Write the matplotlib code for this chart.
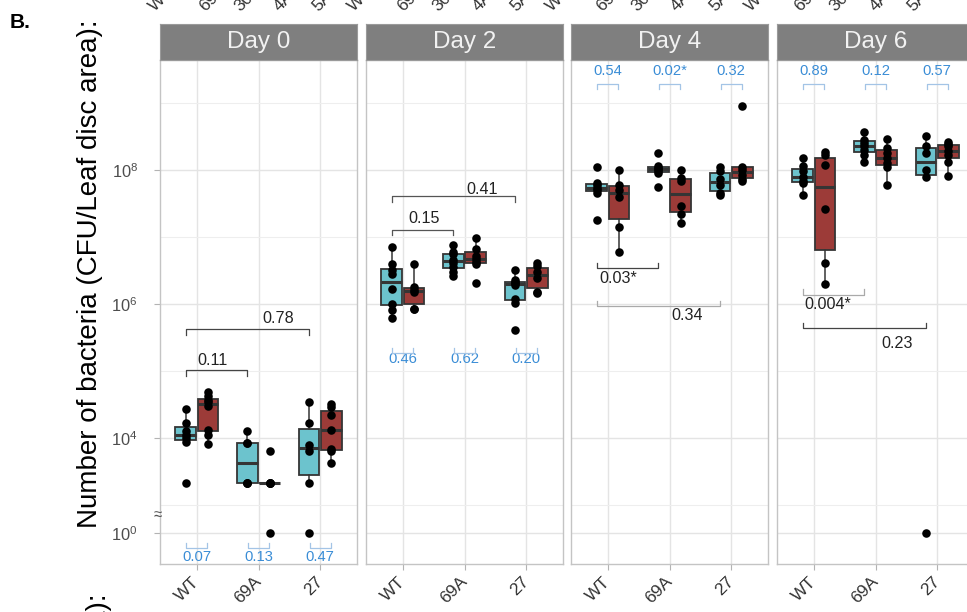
import numpy as np
import matplotlib.pyplot as plt
from matplotlib import transforms

plt.rcParams['font.family'] = ['Liberation Sans', 'DejaVu Sans']
plt.rcParams['mathtext.fontset'] = 'custom'
plt.rcParams['mathtext.rm'] = 'Liberation Sans'
plt.rcParams['mathtext.it'] = 'Liberation Sans:italic'
plt.rcParams['mathtext.bf'] = 'Liberation Sans:bold'

days = ['Day 0', 'Day 2', 'Day 4', 'Day 6']
strains = ['WT', '69A', '27']

# log10 CFU per leaf disc for each strain (0 = nothing recovered, shown at 10^0)
teal_day0 = [[3.33, 3.94, 4.00, 4.045, 4.10, 4.22, 4.43],
             [3.32, 3.32, 3.32, 3.92, 3.92, 4.11],
             [0.0, 3.32, 3.80, 3.90, 4.22, 4.54]]
red_day0 = [[3.91, 4.05, 4.12, 4.48, 4.54, 4.56, 4.63, 4.68],
            [0.0, 3.32, 3.32, 3.32, 3.32, 3.80],
            [3.62, 3.80, 3.84, 4.12, 4.34, 4.46, 4.51]]
teal_day2 = [[5.79, 5.91, 6.00, 6.22, 6.44, 6.50, 6.60, 6.855],
             [6.41, 6.48, 6.55, 6.61, 6.66, 6.74, 6.77, 6.88],
             [5.61, 6.01, 6.08, 6.28, 6.31, 6.32, 6.35, 6.51]]
red_day2 = [[5.92, 5.93, 6.18, 6.20, 6.25, 6.60],
            [6.31, 6.60, 6.63, 6.67, 6.72, 6.82, 6.98],
            [6.16, 6.18, 6.38, 6.48, 6.56, 6.61]]
teal_day4 = [[7.25, 7.66, 7.70, 7.73, 7.78, 7.80, 8.04],
             [7.75, 7.95, 7.98, 8.01, 8.03, 8.06, 8.25],
             [7.62, 7.66, 7.78, 7.86, 7.99, 8.04]]
red_day4 = [[6.78, 7.15, 7.60, 7.70, 7.77, 8.00],
            [7.21, 7.34, 7.46, 7.83, 7.88, 8.00],
            [7.83, 7.86, 7.93, 8.00, 8.05, 8.96]]
teal_day6 = [[7.63, 7.80, 7.83, 7.90, 7.98, 8.06, 8.17],
             [8.12, 8.22, 8.30, 8.35, 8.40, 8.45, 8.56],
             [0.0, 7.90, 8.00, 8.25, 8.35, 8.50]]
red_day6 = [[6.30, 6.61, 7.41, 8.07, 8.22, 8.27],
            [7.78, 8.04, 8.10, 8.17, 8.25, 8.33, 8.46],
            [7.91, 8.12, 8.22, 8.28, 8.35, 8.38, 8.41]]

teal_all = [teal_day0, teal_day2, teal_day4, teal_day6]
red_all = [red_day0, red_day2, red_day4, red_day6]

# p-values: teal vs red within a strain, and WT vs mutant within a colour
within_p = [['0.07', '0.13', '0.47'],
            ['0.46', '0.62', '0.20'],
            ['0.54', '0.02*', '0.32'],
            ['0.89', '0.12', '0.57']]
between_p = [[('WT', '69A', '0.11'), ('WT', '27', '0.78')],
             [('WT', '69A', '0.15'), ('WT', '27', '0.41')],
             [('WT', '69A', '0.03*'), ('WT', '27', '0.34')],
             [('WT', '69A', '0.004*'), ('WT', '27', '0.23')]]

TEAL = '#6cc3cd'
RED = '#9c3b38'
EDGE = '#353535'
PBLUE = '#3a8dd6'

# broken log axis: everything below 10^3 is squeezed so 10^0 sits just under it
BREAK, SQUEEZE = 3.0, 0.14
def fwd(e):
    e = np.asarray(e, float)
    return np.where(e >= BREAK, e, BREAK + (e - BREAK) * SQUEEZE)
def inv(d):
    d = np.asarray(d, float)
    return np.where(d >= BREAK, d, BREAK + (d - BREAK) / SQUEEZE)

W, H = 967, 612
def px_box(l, t, w, h):
    return [l / W, 1 - (t + h) / H, w / W, h / H]

fig = plt.figure(figsize=(W / 100, H / 100), dpi=100)

lefts = [160, 366, 571, 777]
pw, top, ph = 197, 60, 504
dodge = 0.18

# bracket placement (axes fraction y, tick direction, label x, label y, colour)
between_layout = [[(0.385, -1, 1.26, 0.403, '#444444'), (0.466, -1, 2.32, 0.488, '#444444')],
                  [(0.663, -1, 1.34, 0.685, '#555555'), (0.730, -1, 2.28, 0.743, '#555555')],
                  [(0.587, 1, 1.17, 0.567, '#444444'), (0.511, 1, 2.28, 0.494, '#aaaaaa')],
                  [(0.534, 1, 1.23, 0.514, '#aaaaaa'), (0.468, 1, 2.35, 0.438, '#444444')]]
within_layout = [(0.032, 1, 0.013), (0.419, 1, 0.406), (0.953, -1, 0.978), (0.953, -1, 0.978)]

for i, day in enumerate(days):
    ax = fig.add_axes(px_box(lefts[i], top, pw, ph))
    ax.set_yscale('function', functions=(fwd, inv))
    ax.set_xlim(0.4, 3.6)
    ax.set_ylim(-3.3, 9.64)
    ax.set_axisbelow(True)

    xs = np.arange(1, len(strains) + 1)
    for vals, off, col in [(teal_all[i], -dodge, TEAL), (red_all[i], dodge, RED)]:
        ax.boxplot(vals, positions=xs + off, widths=0.34, patch_artist=True,
                   showfliers=False, showcaps=False, manage_ticks=False,
                   boxprops=dict(facecolor=col, edgecolor=EDGE, linewidth=1.3),
                   medianprops=dict(color=EDGE, linewidth=2.2),
                   whiskerprops=dict(color=EDGE, linewidth=1.1))
        for x, v in zip(xs + off, vals):
            ax.scatter(np.full(len(v), x), v, s=38, color='black', linewidths=0, zorder=4)

    ax.set_xticks(xs)
    ax.set_xticklabels(strains, rotation=45, ha='right', va='center',
                       rotation_mode='anchor', fontsize=12.5, color='#333333')
    ax.tick_params(axis='x', length=4, color='#b3b3b3', pad=7)
    ax.set_yticks([0, 4, 6, 8])
    ax.set_yticks([3, 5, 7, 9], minor=True)
    if i == 0:
        ax.set_yticklabels([r'$10^0$', r'$10^4$', r'$10^6$', r'$10^8$'])
        ax.tick_params(axis='y', which='major', length=4, color='#b3b3b3',
                       labelsize=11.8, labelcolor='#4d4d4d', pad=12)
        ax.text(-0.012, 0.097, '≈', transform=ax.transAxes, fontsize=11,
                color='#555555', ha='center', va='center', clip_on=False)
    else:
        ax.tick_params(axis='y', which='major', length=0, labelleft=False)
    ax.tick_params(axis='y', which='minor', length=0)
    ax.grid(True, which='major', color='#e4e4e4', linewidth=1.0)
    ax.grid(True, which='minor', axis='y', color='#eeeeee', linewidth=0.8)
    for sp in ax.spines.values():
        sp.set_color('#c4c4c4')
        sp.set_linewidth(1.0)

    trans = transforms.blended_transform_factory(ax.transData, ax.transAxes)

    for (a, b, lab), (yb, d, tx, ty, c) in zip(between_p[i], between_layout[i]):
        x1 = strains.index(a) + 1 - dodge
        x2 = strains.index(b) + 1 - dodge
        ax.plot([x1, x1, x2, x2], [yb + d * 0.011, yb, yb, yb + d * 0.011],
                transform=trans, color=c, linewidth=0.9, clip_on=False, zorder=5)
        ax.text(tx, ty, lab, transform=trans, fontsize=11.6, color='#222222',
                ha='center', va='center')

    yb, d, ty = within_layout[i]
    for j, lab in enumerate(within_p[i]):
        x = j + 1
        ax.plot([x - 0.17, x - 0.17, x + 0.17, x + 0.17],
                [yb + d * 0.01, yb, yb, yb + d * 0.01],
                transform=trans, color='#a3c4e6', linewidth=0.9, zorder=5)
        ax.text(x, ty, lab, transform=trans, fontsize=10.6, color=PBLUE,
                ha='center', va='center')

    # facet strip
    sax = fig.add_axes(px_box(lefts[i], 24, pw, 36))
    sax.set_facecolor('#7f7f7f')
    sax.set_xticks([])
    sax.set_yticks([])
    for sp in sax.spines.values():
        sp.set_color('#9a9a9a')
    sax.text(0.5, 0.5, day, transform=sax.transAxes, fontsize=17.5,
             color='#f2f2f2', ha='center', va='center')

ylab = 'Number of bacteria (CFU/Leaf disc area):'
fig.text(90 / W, 1 - 274 / H, ylab, rotation=90, fontsize=20, ha='center', va='center')
fig.text(99 / W, 1 - 594 / H, ylab, rotation=90, fontsize=20, ha='center', va='top')
fig.text(10 / W, 1 - 22 / H, 'B.', fontsize=15, fontweight='bold', va='center')

# tick labels of the row above, mostly out of frame
upper_labels = ['WT', '69A', '30', '4A', '5A']
upper_offsets = [0, 50, 85, 125, 163]
for g in range(4):
    for lab, off in zip(upper_labels, upper_offsets):
        fig.text((155 + 198.5 * g + off) / W, 1 - 12 / H, lab, rotation=45,
                 rotation_mode='anchor', ha='left', va='baseline',
                 fontsize=12.5, color='#333333')

fig.savefig('out.png', dpi=100)
